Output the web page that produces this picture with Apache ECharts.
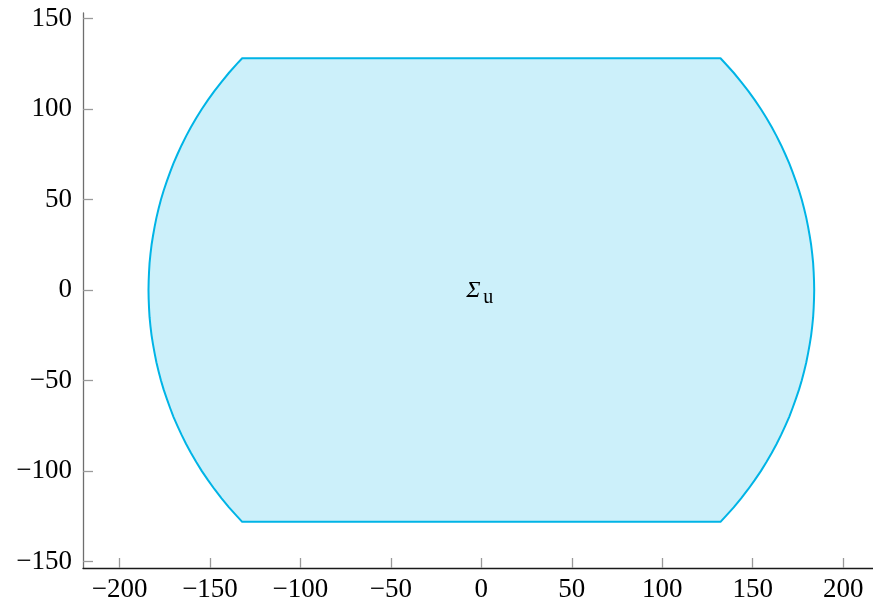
<!DOCTYPE html>
<html>
<head>
<meta charset="utf-8">
<script src="https://cdn.jsdelivr.net/npm/echarts@6/dist/echarts.min.js"></script>
<style>
  html, body { margin: 0; padding: 0; background: #fff; }
  #chart { width: 873px; height: 607px; }
</style>
</head>
<body>
<div id="chart"></div>
<script>
// Right-hand arc of the region Σu, from the top corner down to the bottom corner.
const arcY = [
  128, 125, 120, 115, 110, 105, 100, 95, 90, 85, 80, 75, 70, 65, 60, 55, 50, 45, 40, 35, 30, 25, 20, 15, 10, 5,
  0,
  -5, -10, -15, -20, -25, -30, -35, -40, -45, -50, -55, -60, -65, -70, -75, -80, -85, -90, -95, -100, -105, -110, -115, -120, -125, -128
];
const arcX = [
  132.2, 135.0, 139.5, 143.6, 147.5, 151.1, 154.5, 157.6, 160.5, 163.2, 165.7, 168.0, 170.2, 172.1, 173.9, 175.6, 177.1, 178.4, 179.6, 180.6, 181.5, 182.3, 182.9, 183.4, 183.7, 183.9,
  184.0,
  183.9, 183.7, 183.4, 182.9, 182.3, 181.5, 180.6, 179.6, 178.4, 177.1, 175.6, 173.9, 172.1, 170.2, 168.0, 165.7, 163.2, 160.5, 157.6, 154.5, 151.1, 147.5, 143.6, 139.5, 135.0, 132.2
];
// The left arc is the mirror image of the right one.

// Axis ticks
const xTicks = [-200, -150, -100, -50, 0, 50, 100, 150, 200];
const yTicks = [-150, -100, -50, 0, 50, 100, 150];

// Region label position
const labelPos = [0, 0];

const fmt = v => String(v).replace('-', '\u2212');
const serif = 'Liberation Serif';

const chart = echarts.init(document.getElementById('chart'), null, { renderer: 'canvas' });

chart.setOption({
  animation: false,
  backgroundColor: '#ffffff',
  grid: { left: 83, right: 0, top: 13, bottom: 39, containLabel: false },
  xAxis: {
    type: 'value',
    min: -220.2,
    max: 216.5,
    axisLine: { show: true, onZero: false, lineStyle: { color: '#1a1a1a', width: 1.3 } },
    axisTick: { show: true, inside: true, length: 10, customValues: xTicks,
                lineStyle: { color: '#9a9a9a', width: 1.3 } },
    axisLabel: { customValues: xTicks, formatter: fmt, margin: 8,
                 fontFamily: serif, fontSize: 27, color: '#000' },
    splitLine: { show: false }
  },
  yAxis: {
    type: 'value',
    min: -153.5,
    max: 153,
    axisLine: { show: true, onZero: false, lineStyle: { color: '#6e6e6e', width: 1.3 } },
    axisTick: { show: true, inside: true, length: 10, customValues: yTicks,
                lineStyle: { color: '#9a9a9a', width: 1.3 } },
    axisLabel: { customValues: yTicks, formatter: fmt, margin: 11,
                 fontFamily: serif, fontSize: 27, color: '#000' },
    splitLine: { show: false }
  },
  series: [
    {
      type: 'custom',
      coordinateSystem: 'cartesian2d',
      data: [[0, 0]],
      clip: true,
      renderItem: function (params, api) {
        // right arc top→bottom, then left arc bottom→top
        const right = arcX.map((x, i) => api.coord([x, arcY[i]]));
        const left = arcX.map((x, i) => api.coord([-x, -arcY[i]]));
        return {
          type: 'polygon',
          shape: { points: right.concat(left) },
          style: {
            fill: 'rgba(0, 180, 230, 0.2)',
            stroke: '#00b4e6',
            lineWidth: 2,
            lineJoin: 'round'
          }
        };
      }
    },
    {
      // Σu label: italic Sigma with an upright subscript u
      type: 'custom',
      coordinateSystem: 'cartesian2d',
      data: [labelPos],
      silent: true,
      renderItem: function (params, api) {
        const c = api.coord([api.value(0), api.value(1)]);
        return {
          type: 'group',
          children: [
            {
              type: 'text',
              x: c[0] - 15, y: c[1] + 1,
              style: { text: 'Σ', fill: '#000', fontFamily: serif, fontStyle: 'italic',
                       fontSize: 24, align: 'left', verticalAlign: 'middle' }
            },
            {
              type: 'text',
              x: c[0] + 2, y: c[1] + 8,
              style: { text: 'u', fill: '#000', fontFamily: serif,
                       fontSize: 20, align: 'left', verticalAlign: 'middle' }
            }
          ]
        };
      }
    }
  ]
});
</script>
</body>
</html>
